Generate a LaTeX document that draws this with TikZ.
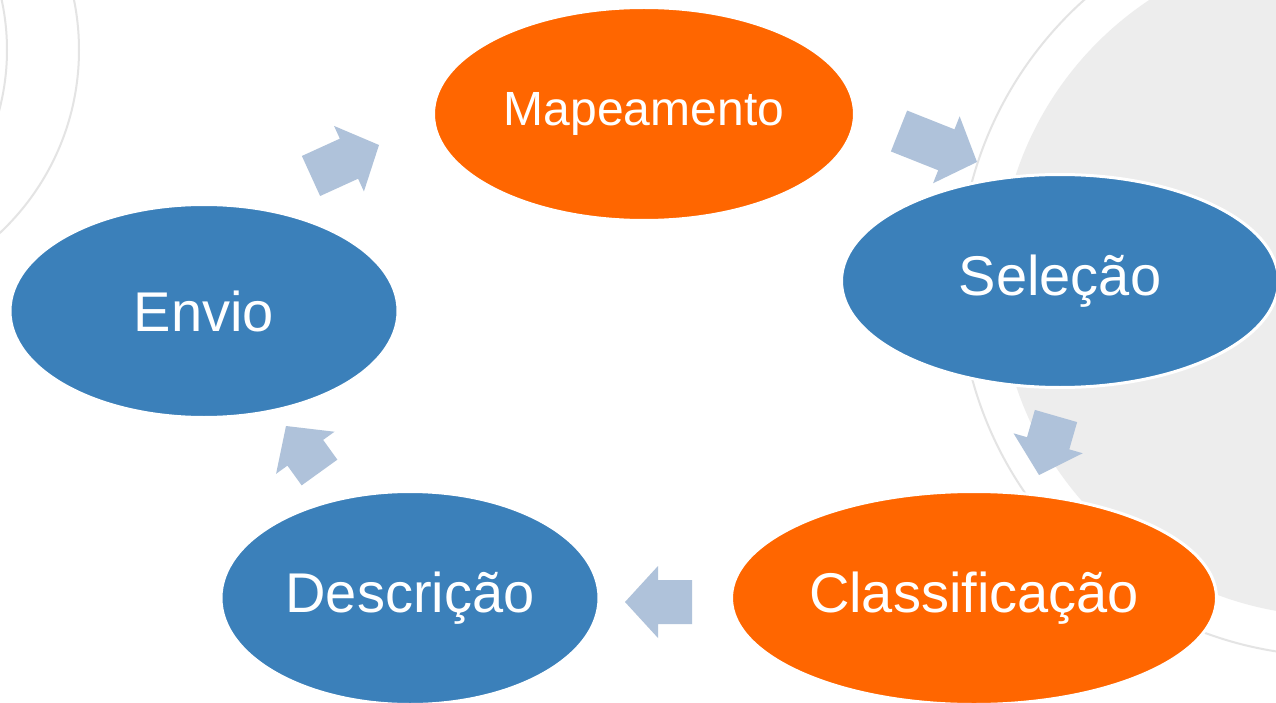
\documentclass[tikz,border=0pt]{standalone}
\usepackage{fontspec}
\setmainfont{Liberation Sans}
\usetikzlibrary{shapes.geometric,calc}
\definecolor{orangeA}{RGB}{255,102,0}
\definecolor{blueA}{RGB}{59,128,186}
\definecolor{arrowA}{RGB}{175,194,218}
\definecolor{bgA}{RGB}{237,237,237}
\definecolor{ringA}{RGB}{228,228,228}
\tikzset{
  ell/.style={ellipse, draw=white, line width=3pt, inner sep=0pt, text=white,
    font=\fontsize{56}{64}\selectfont, minimum height=213pt},
  orangeell/.style={ell, fill=orangeA},
  blueell/.style={ell, fill=blueA},
  smalltext/.style={font=\fontsize{48}{56}\selectfont},
  ringline/.style={draw=ringA, line width=2pt},
  arrowfill/.style={fill=arrowA}
}
\newcommand{\blockarr}[2]{%
  \coordinate (#2h) at ($(#2)!33pt!(#1)$);
  \fill[arrowfill] ($(#1)!22pt!90:(#2)$) -- ($(#2h)!22pt!90:(#2)$) -- ($(#2h)!36pt!90:(#2)$)
    -- (#2) -- ($(#2h)!36pt!-90:(#2)$) -- ($(#2h)!22pt!-90:(#2)$) -- ($(#1)!22pt!-90:(#2)$) -- cycle;
}
\begin{document}
\begin{tikzpicture}[x=1pt,y=-1pt]
\useasboundingbox (0,0) rectangle (1276,703);
\fill[white] (0,0) rectangle (1276,703);
\begin{scope}
  \clip (0,0) rectangle (1276,703);
  \fill[bgA] (1335,280) circle (336pt);
  \draw[ringline] (1335,280) circle (376pt);
  \draw[ringline] (-172,50) circle (251pt);
  \draw[ringline] (-229,50) circle (236pt);
\end{scope}
% arrow end points
\coordinate (a1t) at (311,176);   \coordinate (a1p) at (379,145);
\coordinate (a2t) at (899,131);   \coordinate (a2p) at (977,162);
\coordinate (a3t) at (1056,416);  \coordinate (a3p) at (1039,475);
\coordinate (a4t) at (692,602);   \coordinate (a4p) at (625,602);
\coordinate (a5t) at (319.5,472.5); \coordinate (a5p) at (286,426);
\blockarr{a1t}{a1p}
\blockarr{a2t}{a2p}
\blockarr{a3t}{a3p}
\blockarr{a4t}{a4p}
\blockarr{a5t}{a5p}
% nodes
\node[orangeell, smalltext, minimum width=421pt] (map) at (644,114) {Mapeamento};
\node[blueell, minimum width=437pt] (sel) at (1060,281) {Seleção};
\node[orangeell, minimum width=485pt] (cla) at (974,598) {Classificação};
\node[blueell, minimum width=378pt] (des) at (410,598) {Descrição};
\node[blueell, minimum width=388pt] (env) at (204,311) {Envio};
\end{tikzpicture}
\end{document}
